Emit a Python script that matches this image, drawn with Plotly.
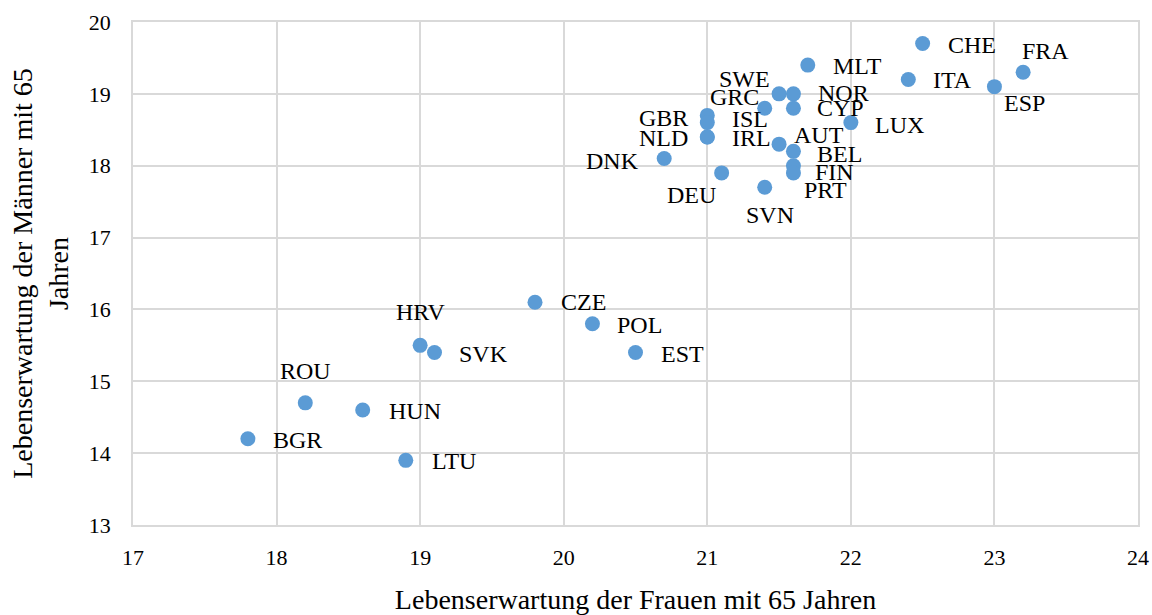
import plotly.graph_objects as go

# Lebenserwartung mit 65 Jahren, nach Land
laender = ["CHE", "FRA", "ITA", "ESP", "MLT", "SWE", "NOR", "GRC", "CYP", "LUX",
           "GBR", "ISL", "NLD", "IRL", "AUT", "BEL", "FIN", "PRT", "DNK", "DEU",
           "SVN", "CZE", "POL", "HRV", "SVK", "EST", "ROU", "HUN", "BGR", "LTU"]
frauen = [22.5, 23.2, 22.4, 23.0, 21.7, 21.5, 21.6, 21.4, 21.6, 22.0,
          21.0, 21.0, 21.0, 21.0, 21.5, 21.6, 21.6, 21.6, 20.7, 21.1,
          21.4, 19.8, 20.2, 19.0, 19.1, 20.5, 18.2, 18.6, 17.8, 18.9]
maenner = [19.7, 19.3, 19.2, 19.1, 19.4, 19.0, 19.0, 18.8, 18.8, 18.6,
           18.7, 18.6, 18.4, 18.4, 18.3, 18.2, 18.0, 17.9, 18.1, 17.9,
           17.7, 16.1, 15.8, 15.5, 15.4, 15.4, 14.7, 14.6, 14.2, 13.9]

# Beschriftungsplatzierung (Pixelversatz zum Punkt, Ausrichtung)
R, L, C = "left", "right", "center"
lab_anchor = [R, R, R, R, R, L, R, L, R, R,
              L, R, L, R, R, R, R, R, L, L,
              C, R, R, C, R, R, C, R, R, R]
lab_dx = [23, -3, 23, 8, 23, -7, 23, -4, 22, 22,
          -17, 23, -17, 23, 13, 22, 20, 9, -23, -4,
          5, 24, 23, 0, 22, 23, 0, 24, 23, 24]
lab_dy = [-1, 21, -1, -16, -1, 15, 1, 11, 0, -2,
          -3, 4, -1, -1, 9, -3, -6, -17, -2, -22,
          -28, 0, -1, 33, -1, -1, 32, -1, -1, -1]

font = "Liberation Serif"

fig = go.Figure()
fig.add_trace(go.Scatter(
    x=frauen, y=maenner, mode="markers",
    marker=dict(size=15, color="#5B9BD5"),
    cliponaxis=False, showlegend=False,
))

for land, fx, my, anc, dx, dy in zip(laender, frauen, maenner, lab_anchor, lab_dx, lab_dy):
    fig.add_annotation(x=fx, y=my, text=land, showarrow=False,
                       xanchor=anc, yanchor="middle", xshift=dx, yshift=dy,
                       font=dict(family=font, size=24, color="#000000"))

axis_style = dict(showgrid=True, gridcolor="#d9d9d9", gridwidth=1.5,
                  showline=True, linecolor="#d9d9d9", linewidth=1.5, mirror=True,
                  zeroline=False, ticks="", automargin=False,
                  tickfont=dict(family=font, size=22, color="#000"))

fig.update_xaxes(range=[17, 24], dtick=1, ticklabelstandoff=12,
                 title=dict(text="Lebenserwartung der Frauen mit 65 Jahren",
                            font=dict(family=font, size=28, color="#000"), standoff=24),
                 **axis_style)
fig.update_yaxes(range=[13, 20], dtick=1, ticklabelstandoff=16,
                 title=dict(text="Lebenserwartung der Männer mit 65<br>Jahren",
                            font=dict(family=font, size=28, color="#000"), standoff=12),
                 **axis_style)

fig.update_layout(width=1152, height=615, plot_bgcolor="white", paper_bgcolor="white",
                  margin=dict(l=133, r=14, t=22, b=90))

# Standardrand der Seite entfernen, damit die Grafik genau ins Fenster passt
fig.write_html("out.html", config={"displayModeBar": False},
               post_script="document.body.style.margin='0';")
